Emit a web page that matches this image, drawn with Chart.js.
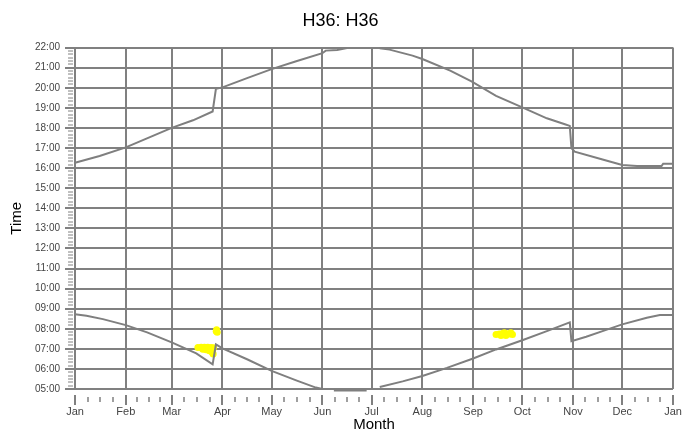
<!DOCTYPE html>
<html>
<head>
<meta charset="utf-8">
<script src="https://cdn.jsdelivr.net/npm/chart.js@4.4.0/dist/chart.umd.min.js"></script>
<style>
  html, body { margin: 0; padding: 0; background: #fff; }
  #wrap { width: 696px; height: 432px; }
</style>
</head>
<body>
<div id="wrap"><canvas id="sunChart"></canvas></div>
<script>
// month axis (day of year, Jan 1 = 0)
const monthLabels = ['Jan', 'Feb', 'Mar', 'Apr', 'May', 'Jun', 'Jul', 'Aug', 'Sep', 'Oct', 'Nov', 'Dec', 'Jan'];
const monthStarts = [0, 31, 59, 90, 120, 151, 181, 212, 243, 273, 304, 334, 365];

// time axis, hours
const hourMin = 5;
const hourMax = 22;

// sunset (upper line), null = off the chart
const sunsetDays  = [0, 15, 31, 45, 59, 72, 84, 86, 90, 105, 120, 135, 151, 153, 160, 163, 166, 175, 186, 192, 206, 212, 229, 242, 257, 273, 288, 299, 302, 303, 305, 322, 334, 343, 358, 359, 365];
const sunsetTimes = [16.27, 16.6, 17.03, 17.52, 18.0, 18.38, 18.82, 19.95, 20.02, 20.48, 20.93, 21.32, 21.72, 21.85, 21.88, 21.93, 21.98, null, 21.97, 21.9, 21.6, 21.43, 20.85, 20.32, 19.6, 19.02, 18.48, 18.18, 18.1, 17.0, 16.82, 16.43, 16.15, 16.1, 16.1, 16.22, 16.22];

// sunrise (lower line)
const sunriseDays  = [0, 7, 17, 31, 44, 59, 74, 84, 86, 90, 105, 120, 135, 147, 151, 154, 158, 178, 182, 186, 200, 212, 227, 243, 257, 273, 288, 302, 303, 312, 322, 334, 349, 357, 365];
const sunriseTimes = [8.72, 8.65, 8.48, 8.18, 7.82, 7.32, 6.77, 6.23, 7.22, 7.02, 6.48, 5.9, 5.43, 5.07, 5.0, null, 4.93, 4.93, null, 5.1, 5.38, 5.65, 6.05, 6.52, 6.97, 7.43, 7.88, 8.32, 7.38, 7.6, 7.88, 8.22, 8.55, 8.68, 8.68];

// yellow marks
const markDays  = [75, 77, 79, 81, 83, 84.5, 78, 80, 82, 83.5, 84, 84.3, 86.4, 86.8, 86.2, 257, 259, 261, 263, 265, 267, 260, 263, 262, 266];
const markTimes = [7.07, 7.08, 7.08, 7.08, 7.07, 7.05, 6.98, 6.95, 6.9, 6.85, 6.8, 6.74, 7.95, 7.82, 7.88, 7.72, 7.74, 7.76, 7.76, 7.74, 7.72, 7.66, 7.66, 7.8, 7.8];

const gridGray = '#808080';

function toPoints(days, vals) {
    return days.map((d, i) => ({ x: d, y: vals[i] }));
}

// month ticks plus quarter-month minor ticks
const xTickValues = [];
for (let m = 0; m < monthStarts.length - 1; m++) {
    const a = monthStarts[m], b = monthStarts[m + 1];
    for (let q = 0; q < 4; q++) xTickValues.push(a + (b - a) * q / 4);
}
xTickValues.push(365);

// hours plus 10-minute minor ticks
const yTickValues = [];
for (let i = 0; i <= (hourMax - hourMin) * 6; i++) yTickValues.push(hourMin + i / 6);

function isMonth(v) {
    return monthStarts.indexOf(v) >= 0;
}
function isHour(v) {
    return Math.abs(v - Math.round(v)) < 1e-6;
}

const canvas = document.getElementById('sunChart');

new Chart(canvas, {
    type: 'line',
    data: {
        datasets: [{
            label: 'Sunset',
            data: toPoints(sunsetDays, sunsetTimes),
            borderColor: '#7f7f7f',
            borderWidth: 2,
            pointRadius: 0,
            spanGaps: false,
            clip: false
        }, {
            label: 'Sunrise',
            data: toPoints(sunriseDays, sunriseTimes),
            borderColor: '#7f7f7f',
            borderWidth: 2,
            pointRadius: 0,
            spanGaps: false,
            clip: false
        }, {
            label: 'Marks',
            data: toPoints(markDays, markTimes),
            showLine: false,
            pointRadius: 3.5,
            pointBorderWidth: 0,
            pointBackgroundColor: '#ffff00',
            borderColor: '#ffff00'
        }]
    },
    options: {
        responsive: true,
        maintainAspectRatio: false,
        animation: false,
        layout: { padding: { left: 8, right: 23, top: 4, bottom: 0 } },
        plugins: {
            legend: { display: false },
            tooltip: { enabled: false },
            title: {
                display: true,
                text: 'H36: H36',
                color: '#000',
                font: { family: 'Liberation Sans', size: 18, weight: 'normal' },
                padding: { top: 6, bottom: 16 }
            }
        },
        scales: {
            x: {
                type: 'linear',
                min: 0,
                max: 365,
                afterBuildTicks: axis => { axis.ticks = xTickValues.map(v => ({ value: v })); },
                border: { display: false },
                grid: {
                    color: ctx => isMonth(ctx.tick.value) ? gridGray : 'rgba(0,0,0,0)',
                    lineWidth: 2,
                    tickLength: 16,
                    tickColor: gridGray,
                    tickWidth: ctx => isMonth(ctx.tick.value) ? 2 : 1.5,
                    tickBorderDash: ctx => isMonth(ctx.tick.value) ? [0, 6, 10, 40] : [0, 8, 5, 40]
                },
                ticks: {
                    autoSkip: false,
                    maxRotation: 0,
                    padding: 1,
                    color: '#444',
                    font: { family: 'Liberation Sans', size: 11, lineHeight: 1 },
                    callback: v => isMonth(v) ? monthLabels[monthStarts.indexOf(v)] : ''
                },
                title: {
                    display: true,
                    text: 'Month',
                    color: '#000',
                    font: { family: 'Liberation Sans', size: 15, lineHeight: 1 },
                    padding: { top: -1, bottom: 0 }
                }
            },
            y: {
                type: 'linear',
                min: hourMin,
                max: hourMax,
                afterBuildTicks: axis => { axis.ticks = yTickValues.map(v => ({ value: v })); },
                border: { display: false },
                grid: {
                    color: ctx => isHour(ctx.tick.value) ? gridGray : 'rgba(0,0,0,0)',
                    lineWidth: 2,
                    tickLength: 10,
                    tickColor: gridGray,
                    tickWidth: ctx => isHour(ctx.tick.value) ? 2 : 1,
                    tickBorderDash: ctx => isHour(ctx.tick.value) ? [] : [0, 3, 5, 40]
                },
                ticks: {
                    autoSkip: false,
                    padding: 5,
                    color: '#444',
                    font: { family: 'Liberation Sans', size: 10 },
                    callback: v => isHour(v) ? String(Math.round(v)).padStart(2, '0') + ':00' : ''
                },
                title: {
                    display: true,
                    text: 'Time',
                    color: '#000',
                    font: { family: 'Liberation Sans', size: 15 },
                    padding: { top: 0, bottom: 4 }
                }
            }
        }
    }
});
</script>
</body>
</html>
